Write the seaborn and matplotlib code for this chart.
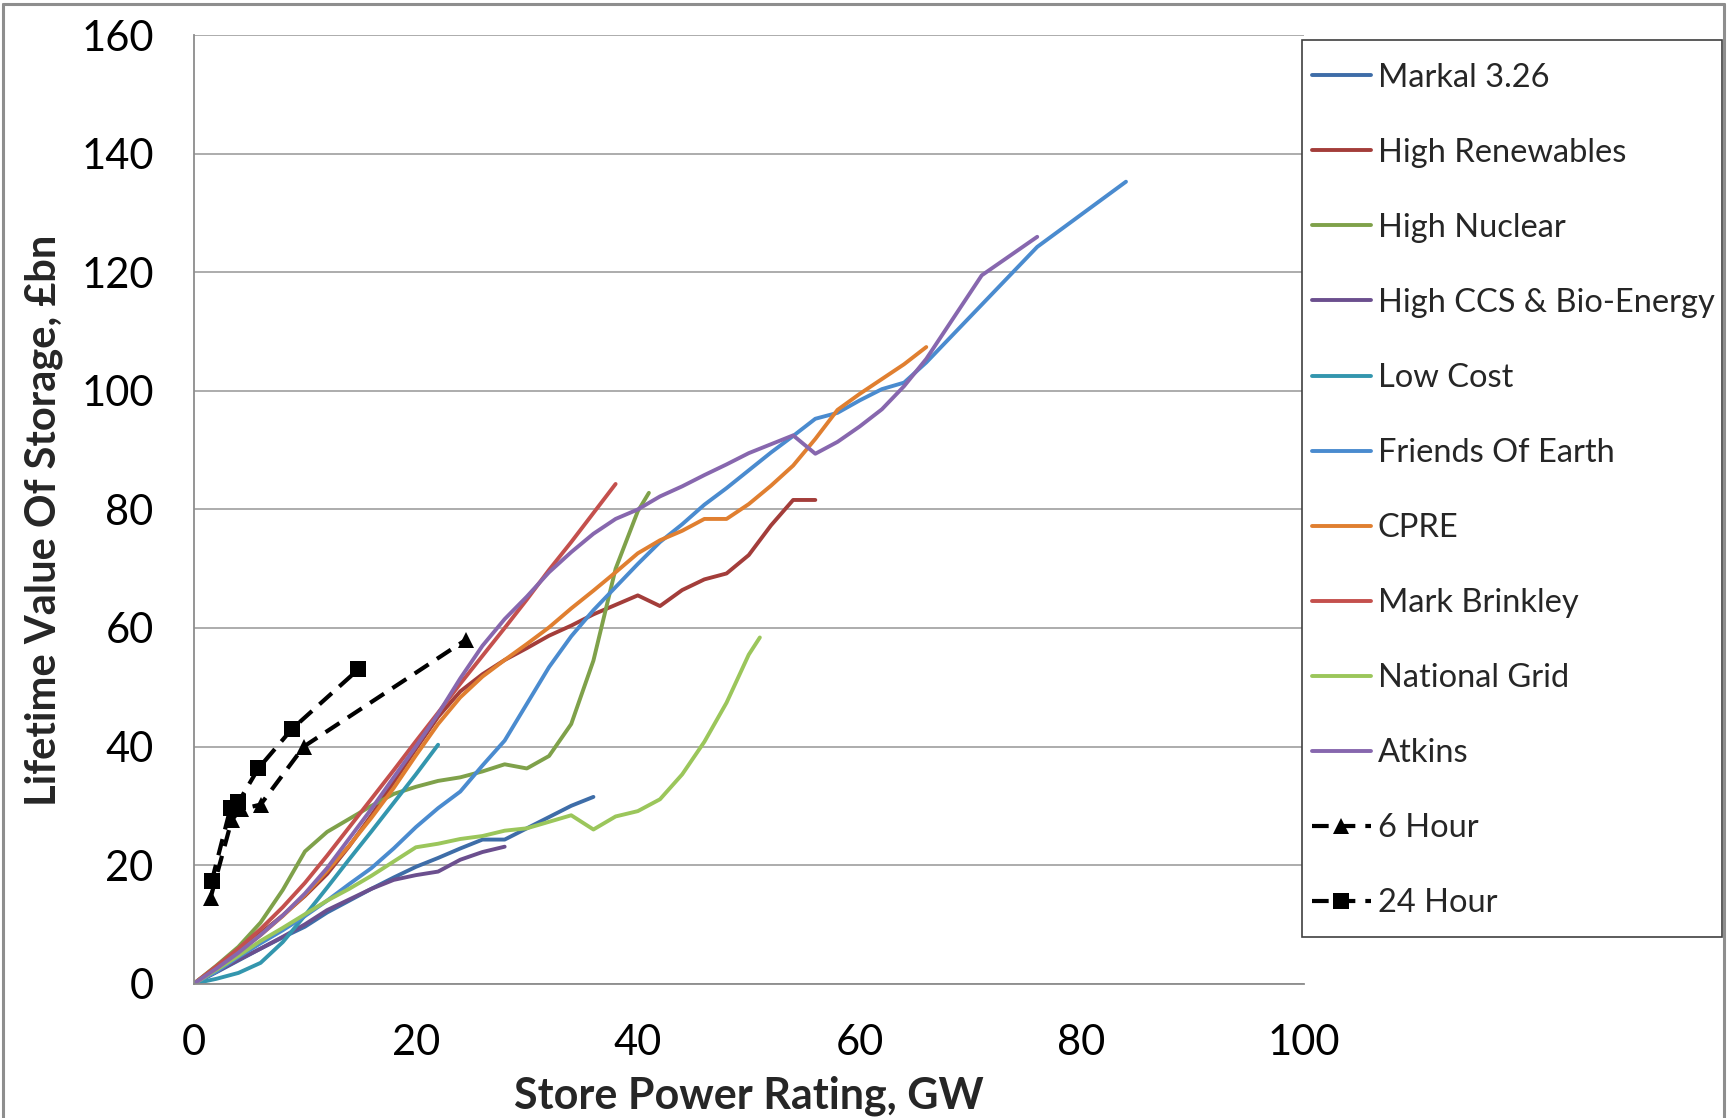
import matplotlib
matplotlib.use("Agg")
import matplotlib.pyplot as plt
import seaborn as sns
import pandas as pd
from matplotlib.lines import Line2D
from matplotlib.patches import Rectangle

# ---------------- data ----------------
markal_x = [0, 2, 4, 6, 8, 10, 12, 14, 16, 18, 20, 22, 24, 26, 28, 30, 32, 34, 36]
markal_y = [0, 1.9, 3.9, 5.9, 7.8, 9.6, 12, 14, 16, 17.9, 19.7, 21.2, 22.8, 24.3, 24.3, 26.2, 28.1, 30, 31.5]

hr_x = [0, 2, 4, 6, 8, 10, 12, 14, 16, 18, 20, 22, 24, 26, 28, 30, 32, 34, 36, 38, 40, 42, 44, 46, 48, 50, 52, 54, 56]
hr_y = [0, 2.8, 5.7, 8.5, 11.5, 14.8, 18.5, 23.2, 28.4, 34, 39.6, 45, 49.3, 52.2, 54.6, 56.6, 58.7, 60.4, 62.3, 63.9,
        65.5, 63.7, 66.4, 68.2, 69.2, 72.3, 77.3, 81.6, 81.6]

nuc_x = [0, 2, 4, 6, 8, 10, 12, 14, 16, 18, 20, 22, 24, 26, 28, 30, 32, 34, 36, 38, 40, 41]
nuc_y = [0, 3, 6.2, 10.3, 15.8, 22.3, 25.6, 27.8, 30, 32, 33.2, 34.2, 34.8, 35.8, 37.0, 36.3, 38.4, 43.8, 54.5, 70,
         79.7, 82.8]

ccs_x = [0, 2, 4, 6, 8, 10, 12, 14, 16, 18, 20, 22, 24, 26, 28]
ccs_y = [0, 2, 4, 5.9, 7.9, 10, 12.4, 14.2, 16, 17.5, 18.3, 18.9, 20.9, 22.2, 23.1]

low_x = [0, 2, 4, 6, 8, 10, 12, 14, 16, 18, 20, 22]
low_y = [0, 0.8, 1.8, 3.5, 7, 11.5, 16.2, 21, 25.7, 30.5, 35.3, 40.3]

foe_x = [0, 2, 4, 6, 8, 10, 12, 14, 16, 18, 20, 22, 24, 26, 28, 30, 32, 34, 36, 38, 40, 42, 44, 46, 48, 50, 52, 54,
         56, 58, 60, 62, 64, 66, 76, 84]
foe_y = [0, 2, 4.5, 6.8, 9, 11.4, 14, 16.8, 19.5, 22.8, 26.4, 29.6, 32.4, 36.8, 41, 47.2, 53.4, 58.6, 63, 66.9, 70.8,
         74.5, 77.5, 80.8, 83.6, 86.6, 89.6, 92.4, 95.3, 96.3, 98.4, 100.3, 101.4, 104.8, 124.3, 135.3]

cpre_x = [0, 2, 4, 6, 8, 10, 12, 14, 16, 18, 20, 22, 24, 26, 28, 30, 32, 34, 36, 38, 40, 42, 44, 46, 48, 50, 52, 54,
          56, 58, 60, 62, 64, 66]
cpre_y = [0, 2.6, 5.3, 8.2, 11.4, 15, 19, 23.3, 28, 33, 38.5, 43.8, 48.3, 51.8, 54.6, 57.3, 60.1, 63.3, 66.3, 69.4,
          72.6, 74.8, 76.4, 78.4, 78.4, 80.9, 84, 87.4, 91.9, 96.8, 99.5, 102, 104.5, 107.4]

mb_x = [0, 2, 4, 6, 8, 10, 12, 14, 16, 18, 20, 22, 24, 26, 28, 30, 32, 34, 36, 38]
mb_y = [0, 2.9, 5.9, 9.2, 12.9, 17, 21.6, 26.4, 31.2, 36, 40.9, 45.7, 50.6, 55.3, 60, 64.8, 69.8, 74.5, 79.4, 84.3]

ng_x = [0, 2, 4, 6, 8, 10, 12, 14, 16, 18, 20, 22, 24, 26, 28, 30, 32, 34, 36, 38, 40, 42, 44, 46, 48, 50, 51]
ng_y = [0, 2.3, 4.7, 7.2, 9.4, 11.7, 14, 16, 18.2, 20.6, 23, 23.6, 24.4, 24.9, 25.8, 26.2, 27.3, 28.4, 26.0, 28.2,
        29.1, 31.1, 35.3, 40.8, 47.4, 55.5, 58.4]

atk_x = [0, 2, 4, 6, 8, 10, 12, 14, 16, 18, 20, 22, 24, 26, 28, 30, 32, 34, 36, 38, 40, 42, 44, 46, 48, 50, 52, 54,
         56, 58, 60, 62, 64, 66, 71, 76]
atk_y = [0, 2.5, 5.2, 8.2, 11.5, 15.2, 19.5, 24.5, 29.5, 34.8, 40, 45.5, 51.5, 57, 61.5, 65.3, 69.4, 72.8, 75.9, 78.4,
         80, 82.2, 83.9, 85.8, 87.6, 89.5, 91, 92.5, 89.4, 91.4, 94, 96.9, 100.8, 105.4, 119.5, 126]

h6_x = [1.5, 3.4, 4.2, 6.0, 9.9, 24.5]
h6_y = [14.5, 27.6, 29.4, 30.2, 40.0, 58.0]

h24_x = [1.6, 3.3, 4.0, 5.8, 8.8, 14.8]
h24_y = [17.3, 29.7, 30.6, 36.3, 42.9, 53.0]

series_names = ["Markal 3.26", "High Renewables", "High Nuclear", "High CCS & Bio-Energy", "Low Cost",
                "Friends Of Earth", "CPRE", "Mark Brinkley", "National Grid", "Atkins", "6 Hour", "24 Hour"]
series_data = [(markal_x, markal_y), (hr_x, hr_y), (nuc_x, nuc_y), (ccs_x, ccs_y), (low_x, low_y),
               (foe_x, foe_y), (cpre_x, cpre_y), (mb_x, mb_y), (ng_x, ng_y), (atk_x, atk_y),
               (h6_x, h6_y), (h24_x, h24_y)]
colors = ["#3E6DA8", "#A33D3A", "#7FA14A", "#6B4F8E", "#3396AE", "#4A8BCF",
          "#E07F30", "#C4504D", "#9BC65B", "#8767AE", "#000000", "#000000"]
markers = [None] * 10 + ["^", "s"]

x_ticks = [0, 20, 40, 60, 80, 100]
y_ticks = [0, 20, 40, 60, 80, 100, 120, 140, 160]

# ---------------- style ----------------
sns.set_style("white")
plt.rcParams["font.family"] = ["Lato", "DejaVu Sans"]

W, H = 1729, 1118
fig = plt.figure(figsize=(W / 100, H / 100), dpi=100)
ax = fig.add_axes([194 / W, 1 - 983.6 / H, (1303.5 - 194) / W, (983.6 - 35.3) / H])

for name, (xs, ys), c, m in zip(series_names, series_data, colors, markers):
    df = pd.DataFrame({"x": xs, "y": ys})
    if m is None:
        sns.lineplot(data=df, x="x", y="y", ax=ax, color=c, lw=2.8, estimator=None, sort=False,
                     label=name, solid_capstyle="round")
    else:
        sns.lineplot(data=df, x="x", y="y", ax=ax, color=c, lw=3.0, estimator=None, sort=False,
                     label=name, marker=m, markersize=12, markeredgewidth=0,
                     linestyle=(0, (4, 2.4)), dash_capstyle="butt")

ax.set_xlim(0, 100)
ax.set_ylim(0, 160)
ax.set_xticks(x_ticks)
ax.set_yticks(y_ticks)
ax.yaxis.grid(True, color="#A6A6A6", lw=1.3)
ax.xaxis.grid(False)
ax.set_axisbelow(True)
for s in ["top", "right"]:
    ax.spines[s].set_visible(False)
for s in ["left", "bottom"]:
    ax.spines[s].set_color("#8C8C8C")
    ax.spines[s].set_linewidth(1.3)
ax.tick_params(axis="both", which="major", direction="out", length=11, width=1.2,
               color="#8C8C8C", labelsize=30, labelcolor="black")
ax.tick_params(axis="x", pad=18)
ax.tick_params(axis="y", pad=18)

ax.set_xlabel("Store Power Rating, GW", fontsize=31, fontweight="bold", va="center")
ax.xaxis.set_label_coords(0.5, (983.6 - 1096) / 948.3)
ax.set_ylabel("Lifetime Value Of Storage, £bn", fontsize=30, fontweight="bold", va="center")
ax.yaxis.set_label_coords((44 - 194) / 1109.5, (983.6 - 520) / 948.3)

handles, labels = ax.get_legend_handles_labels()
if ax.get_legend():
    ax.get_legend().remove()

# legend box (frame drawn separately so the padding can differ vertically/horizontally)
fig.add_artist(Rectangle((1302 / W, 1 - 937 / H), (1722 - 1302) / W, (937 - 40) / H,
                         transform=fig.transFigure, facecolor="white", edgecolor="#404040",
                         lw=1.2, zorder=2))
leg = fig.legend(handles, labels, loc="upper left",
                 bbox_to_anchor=(1302 / W, 1 - 53 / H), bbox_transform=fig.transFigure,
                 fontsize=23.5, frameon=False,
                 borderpad=0.3, labelspacing=1.38, handlelength=1.8, handletextpad=0.22,
                 borderaxespad=0, numpoints=1)
leg.set_zorder(3)

# chart-area border (left, top, right)
bc = "#8E8E8E"
fig.add_artist(Line2D([3 / W, 3 / W], [0, 1 - 4 / H], transform=fig.transFigure, color=bc, lw=2.2))
fig.add_artist(Line2D([3 / W, 1724 / W], [1 - 4 / H, 1 - 4 / H], transform=fig.transFigure, color=bc, lw=2.2))
fig.add_artist(Line2D([1724 / W, 1724 / W], [0, 1 - 4 / H], transform=fig.transFigure, color=bc, lw=2.2))

fig.savefig("out.png", dpi=100)
